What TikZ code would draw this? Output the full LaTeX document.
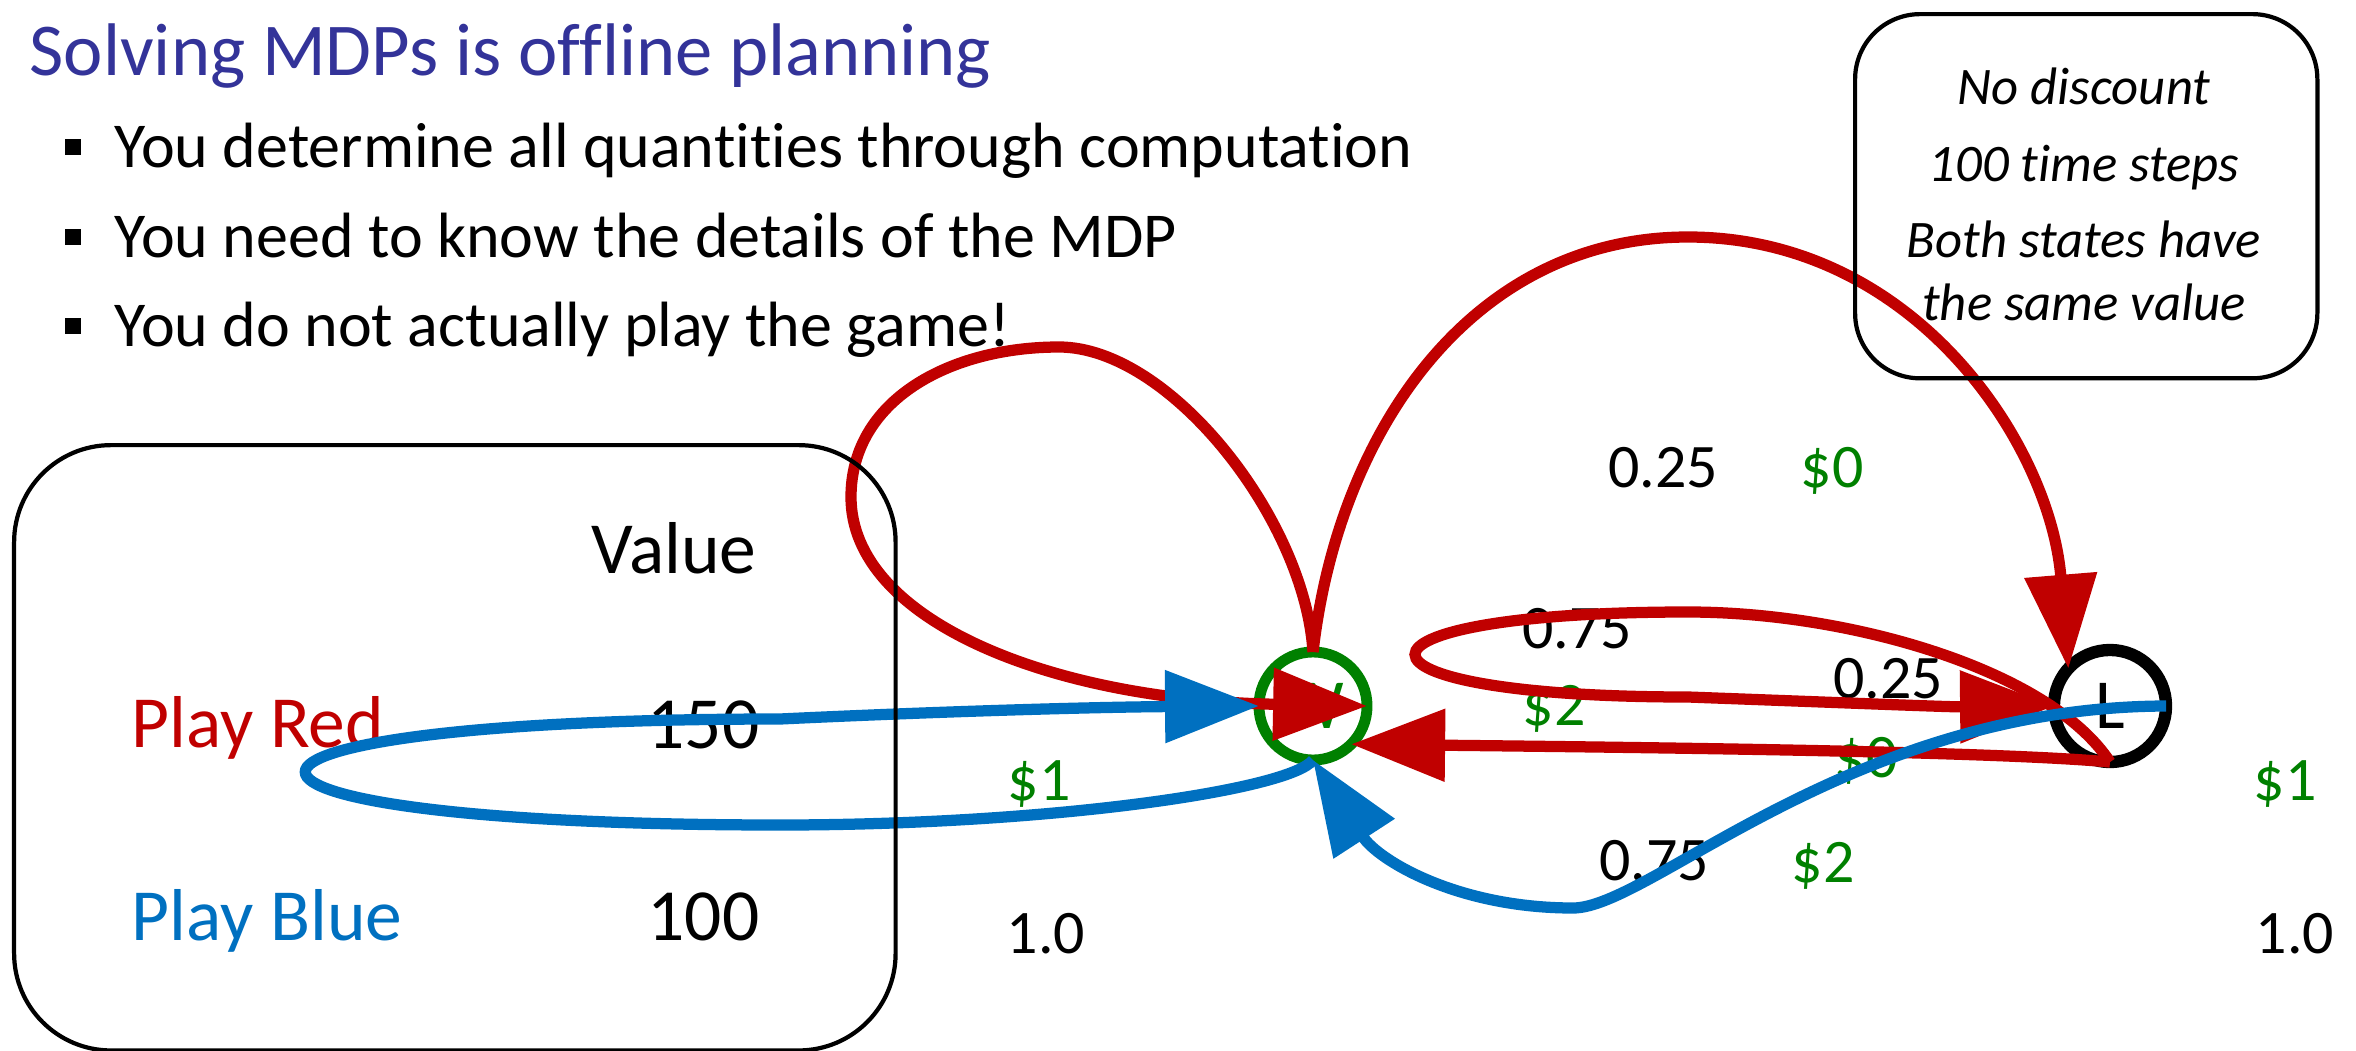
\documentclass[tikz,border=0pt]{standalone}
\usepackage{fontspec}
\setmainfont{Carlito}[Ligatures={NoCommon}]
\usetikzlibrary{arrows.meta}
\definecolor{titleblue}{RGB}{51,51,153}
\definecolor{myred}{RGB}{192,0,0}
\definecolor{myblue}{RGB}{0,112,192}
\definecolor{mygreen}{RGB}{0,128,0}
\begin{document}
\begin{tikzpicture}[x=0.01cm,y=0.01cm,
  titletext/.style={anchor=base west, inner sep=0, text=titleblue, font=\fontsize{21.2pt}{25pt}\selectfont},
  bullettext/.style={anchor=base west, inner sep=0, font=\fontsize{18.2pt}{22pt}\selectfont},
  bulletsq/.style={fill=black, minimum size=0.16cm, inner sep=0},
  tabtext/.style={inner sep=0, font=\fontsize{20.9pt}{25pt}\selectfont},
  lab/.style={anchor=base, inner sep=0, font=\fontsize{17.6pt}{21pt}\selectfont},
  rew/.style={lab, text=mygreen},
  note/.style={anchor=base, inner sep=0, font=\fontsize{15pt}{18pt}\selectfont\itshape},
  state/.style={circle, inner sep=0, outer sep=0, font=\fontsize{20pt}{24pt}\selectfont},
  redarrow/.style={draw=myred, line width=3.2pt, -{Triangle[length=26.7pt,width=20pt]}},
  bluearrow/.style={draw=myblue, line width=3.2pt, -{Triangle[length=26.7pt,width=20pt]}},
  roundbox/.style={draw, line width=1.2pt, anchor=north west, inner sep=0}
]
\useasboundingbox (0,0) rectangle (2356,-1051);

% title and bullets
\node[titletext] (title) at (29,-75) {Solving MDPs is offline planning};
\node[bulletsq] (bs1) at (73,-147) {};
\node[bulletsq] (bs2) at (73,-237) {};
\node[bulletsq] (bs3) at (73,-326) {};
\node[bullettext] (bt1) at (114,-167) {You determine all quantities through computation};
\node[bullettext] (bt2) at (114,-257) {You need to know the details of the MDP};
\node[bullettext] (bt3) at (114,-346) {You do not actually play the game!};

% value table
\node[tabtext, anchor=base east] (vh) at (757,-573) {Value};
\node[tabtext, anchor=base west, text=myred] (pr) at (131,-747) {Play Red};
\node[tabtext, anchor=base east] (v1) at (760,-748) {150};
\node[tabtext, anchor=base west, text=myblue] (pb) at (131,-940) {Play Blue};
\node[tabtext, anchor=base east] (v2) at (760,-940) {100};

% note
\node[note] (n1) at (2084,-104) {No discount};
\node[note] (n2) at (2084,-181) {100 time steps};
\node[note] (n3) at (2084,-257) {Both states have};
\node[note] (n4) at (2084,-320) {the same value};

% labels
\node[lab] (p1) at (1663,-487) {0.25};
\node[rew] (r1) at (1832,-487) {\$0};
\node[lab] (p2) at (1577,-648) {0.75};
\node[rew] (r2) at (1554,-725) {\$2};
\node[lab] (p3) at (1888,-698) {0.25};
\node[rew] (r3) at (1866,-777) {\$0};
\node[rew] (r4) at (1039,-800) {\$1};
\node[lab] (p4) at (1654,-880) {0.75};
\node[rew] (r5) at (1823,-882) {\$2};
\node[rew] (r6) at (2285,-800) {\$1};
\node[lab] (p5) at (1046,-953) {1.0};
\node[lab] (p6) at (2295,-953) {1.0};

% states
\node[state, minimum size=1.08cm, line width=3.1pt, draw=mygreen, text=mygreen] (W) at (1313,-706) {W};
\node[state, minimum size=1.12cm, line width=3.5pt, draw=black] (L) at (2110,-706) {L};

% red transitions
\draw[redarrow] (W.north) .. controls (1305,-520) and (1170,-347) .. (1059,-347)
  .. controls (950,-347) and (851,-400) .. (851,-497)
  .. controls (851,-620) and (1050,-700) .. (W.east);
\draw[redarrow] (W.north) .. controls (1338,-432) and (1471,-237) .. (1688,-237)
  .. controls (1914,-237) and (2050,-444) .. (L.138);
\draw[redarrow] (L.south) .. controls (2050,-670) and (1850,-612) .. (1688,-612)
  .. controls (1324,-612) and (1324,-697) .. (1688,-697)
  .. controls (1850,-703) and (1950,-707) .. (L.west);
\draw[redarrow] (L.south) .. controls (2000,-752) and (1700,-748) .. (W.-45);

% blue transitions
\draw[bluearrow] (W.south) .. controls (1290,-790) and (1050,-825) .. (780,-825)
  .. controls (147,-825) and (147,-719) .. (780,-719)
  .. controls (950,-711) and (1100,-707) .. (W.west);
\draw[bluearrow] (L.east) .. controls (1850,-707) and (1650,-908) .. (1573,-908)
  .. controls (1457,-908) and (1378,-860) .. (W.south);

% boxes
\node[roundbox, rounded corners=0.97cm, minimum width=8.81cm, minimum height=6.05cm] (valbox) at (12,-443) {};
\node[roundbox, rounded corners=0.65cm, minimum width=4.62cm, minimum height=3.64cm] (notebox) at (1853,-12) {};
\end{tikzpicture}
\end{document}
